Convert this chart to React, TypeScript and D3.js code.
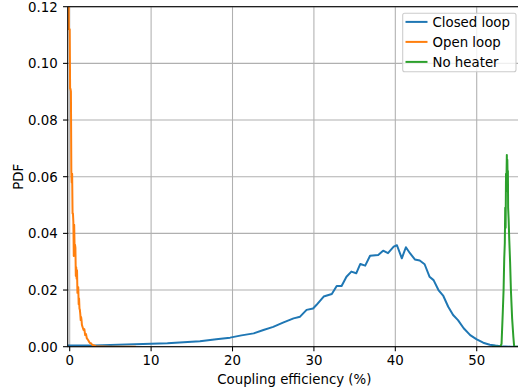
import React from "react";
import * as d3 from "d3";

const closedX = [-0.2, 0, 3, 7, 10, 12, 13.5, 16, 18, 19.7, 21.1, 22.6, 23.8, 25, 26.2, 27.5, 28.3, 29.1, 29.9, 30.3, 31.2, 32.2, 32.8, 33.4, 34.0, 34.6, 35.2, 35.7, 36.3, 36.9, 37.9, 38.5, 39.1, 39.8, 40.2, 40.8, 41.3, 41.8, 42.4, 43.0, 43.6, 44.2, 44.7, 45.3, 45.9, 46.5, 47.1, 47.7, 48.4, 49.2, 50.0, 50.8, 51.6, 52.3, 52.9, 53.5, 54.2, 55.0];
const closedY = [0.0004, 0.0004, 0.0004, 0.0008, 0.001, 0.0012, 0.0015, 0.0019, 0.0026, 0.0032, 0.004, 0.0047, 0.0059, 0.007, 0.0085, 0.01, 0.0106, 0.013, 0.0135, 0.0147, 0.0177, 0.0186, 0.0214, 0.0214, 0.0247, 0.0265, 0.0259, 0.0292, 0.0286, 0.0321, 0.0324, 0.0339, 0.033, 0.0353, 0.0358, 0.0312, 0.0351, 0.033, 0.0308, 0.0304, 0.0291, 0.0247, 0.0235, 0.02, 0.0179, 0.0141, 0.0112, 0.0094, 0.0065, 0.0041, 0.0026, 0.0014, 0.0007, 0.0004, 0.0002, 0.0001, 0.0, 0.0];

const openX = [-0.2, -0.15, -0.1, -0.05, 0.0, 0.05, 0.1, 0.15, 0.2, 0.25, 0.3, 0.35, 0.4, 0.45, 0.5, 0.55, 0.6, 0.65, 0.7, 0.75, 0.8, 0.85, 0.9, 0.95, 1.0, 1.05, 1.1, 1.15, 1.2, 1.25, 1.3, 1.35, 1.4, 1.45, 1.5, 1.6, 1.7, 1.8, 1.9, 2.0, 2.1, 2.2, 2.3, 2.4, 2.5, 2.6, 2.7, 2.8, 3.0, 3.2, 3.5, 4.0, 5.0, 6.0, 8.0];
const openY = [0.14, 0.13, 0.112, 0.112, 0.112, 0.091, 0.091, 0.09, 0.062, 0.058, 0.061, 0.047, 0.047, 0.044, 0.032, 0.043, 0.035, 0.036, 0.035, 0.025, 0.028, 0.024, 0.027, 0.019, 0.02, 0.021, 0.015, 0.017, 0.0135, 0.013, 0.0115, 0.0094, 0.0105, 0.0095, 0.0077, 0.0068, 0.0059, 0.0062, 0.0041, 0.0045, 0.003, 0.0026, 0.0022, 0.0016, 0.0013, 0.0012, 0.0009, 0.0006, 0.0004, 0.0002, 0.0001, 0.00005, 0.0, 0.0, 0.0];

const heaterX = [52.0, 52.9, 53.05, 53.2, 53.3, 53.38, 53.45, 53.5, 53.55, 53.6, 53.65, 53.7, 53.73, 53.76, 53.8, 53.83, 53.86, 53.92, 54.0, 54.1, 54.2, 54.35, 54.5, 54.6, 55.0];
const heaterY = [0.0, 0.0, 0.001, 0.012, 0.02, 0.031, 0.0365, 0.049, 0.042, 0.061, 0.058, 0.0677, 0.055, 0.066, 0.059, 0.062, 0.049, 0.045, 0.0376, 0.03, 0.02, 0.01, 0.0035, 0.0, 0.0];

const xTicks = [0, 10, 20, 30, 40, 50];
const yTicks = [0, 0.02, 0.04, 0.06, 0.08, 0.1, 0.12];

const seriesNames = ["Closed loop", "Open loop", "No heater"];
const seriesColors = ["#1f77b4", "#ff7f0e", "#2ca02c"];

const W = 518;
const H = 391;
const L = 67.7;
const R = 521;
const T = 6.7;
const B = 346.7;

export default function App() {
  const x = d3.scaleLinear().domain([-0.246, 55.44]).range([L, R]);
  const y = d3.scaleLinear().domain([0, 0.12]).range([B, T]);
  const line = d3
    .line<[number, number]>()
    .x((d) => x(d[0]))
    .y((d) => y(d[1]));
  const zip = (xs: number[], ys: number[]) => xs.map((v, i) => [v, ys[i]] as [number, number]);
  const data = [zip(closedX, closedY), zip(openX, openY), zip(heaterX, heaterY)];
  const font = "DejaVu Sans, sans-serif";

  return (
    <svg width={W} height={H} style={{ position: "absolute", left: 0, top: 0 }} fontFamily={font}>
      <rect x={0} y={0} width={W} height={H} fill="#fff" />
      <defs>
        <clipPath id="plot">
          <rect x={L} y={T} width={R - L} height={B - T} />
        </clipPath>
      </defs>
      {xTicks.map((t) => (
        <line key={"gx" + t} x1={x(t)} x2={x(t)} y1={T} y2={B} stroke="#b0b0b0" strokeWidth={1.07} />
      ))}
      {yTicks.map((t) => (
        <line key={"gy" + t} x1={L} x2={R} y1={y(t)} y2={y(t)} stroke="#b0b0b0" strokeWidth={1.07} />
      ))}
      <g clipPath="url(#plot)">
        {data.map((d, i) => (
          <path key={i} d={line(d) || ""} fill="none" stroke={seriesColors[i]} strokeWidth={2} strokeLinejoin="round" strokeLinecap="square" />
        ))}
      </g>
      <rect x={L} y={T} width={R - L} height={B - T} fill="none" stroke="#000" strokeWidth={1.07} />
      {xTicks.map((t) => (
        <g key={"xt" + t}>
          <line x1={x(t)} x2={x(t)} y1={B} y2={B + 4.67} stroke="#000" strokeWidth={1.07} />
          <text x={x(t)} y={B + 18} fontSize={13.33} textAnchor="middle" fill="#000">
            {t}
          </text>
        </g>
      ))}
      {yTicks.map((t) => (
        <g key={"yt" + t}>
          <line x1={L - 4.67} x2={L} y1={y(t)} y2={y(t)} stroke="#000" strokeWidth={1.07} />
          <text x={L - 10} y={y(t) + 4.8} fontSize={13.33} textAnchor="end" fill="#000">
            {t.toFixed(2)}
          </text>
        </g>
      ))}
      <text x={(L + R) / 2} y={384} fontSize={13.33} textAnchor="middle" fill="#000">
        Coupling efficiency (%)
      </text>
      <text transform={`translate(22.5, ${(T + B) / 2}) rotate(-90)`} fontSize={13.33} textAnchor="middle" fill="#000">
        PDF
      </text>
      <g>
        <rect x={402.7} y={13.3} width={113.3} height={58.4} rx={2} fill="#fff" fillOpacity={0.8} stroke="#cccccc" strokeWidth={1.07} />
        {seriesNames.map((n, i) => (
          <g key={n}>
            <line x1={405.5} x2={427.5} y1={21.9 + i * 20} y2={21.9 + i * 20} stroke={seriesColors[i]} strokeWidth={2} />
            <text x={432.5} y={26.6 + i * 20} fontSize={13.33} fill="#000">
              {n}
            </text>
          </g>
        ))}
      </g>
    </svg>
  );
}
